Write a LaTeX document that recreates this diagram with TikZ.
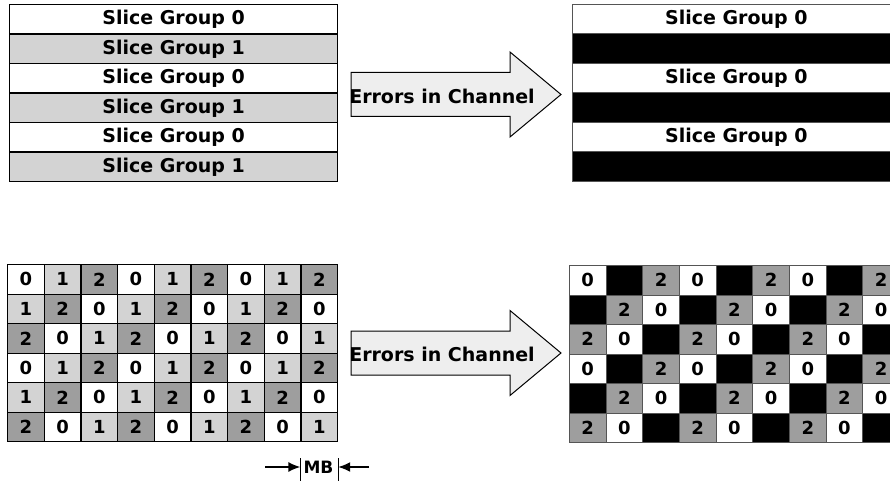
\documentclass[tikz,border=0pt]{standalone}
\usepackage{fontspec}
\setmainfont{DejaVu Sans}
\usepackage{tikz}
\usetikzlibrary{arrows.meta,positioning}
\definecolor{sgone}{HTML}{D3D3D3}
\definecolor{sgtwo}{HTML}{9E9E9E}
\definecolor{chanfill}{HTML}{EEEEEE}
\definecolor{thinline}{HTML}{555555}
\tikzset{
  band/.style={draw, line width=1.2pt, minimum width=328pt, minimum height=29.5pt,
    inner sep=0pt, anchor=north west, font=\fontsize{19}{19}\selectfont\bfseries},
  mbcell/.style={draw, line width=1.2pt, minimum width=36.67pt, minimum height=29.5pt,
    inner sep=0pt, anchor=north west, font=\fontsize{18}{18}\selectfont\bfseries},
  sg0/.style={fill=white}, sg1/.style={fill=sgone}, sg2/.style={fill=sgtwo},
  lost0/.style={fill=white}, lost1/.style={fill=black}, lost2/.style={fill=sgtwo},
  channel/.style={draw, line width=1pt, fill=chanfill},
  chantext/.style={font=\fontsize{19}{19}\selectfont\bfseries, inner sep=0pt},
}
\begin{document}
\begin{tikzpicture}[x=1pt, y=-1pt]
  \clip (0,0) rectangle (890,481);
  % slice groups, interleaved rows
  \foreach \i in {0,...,5} {
    \pgfmathtruncatemacro{\v}{mod(\i,2)}
    \node[band, sg\v] (sgl-\i) at (9, 4+29.5*\i) {Slice Group \v};
    \ifnum\v=0
      \node[band, draw=thinline, line width=0.6pt, lost0] (sgr-\i) at (572, 4+29.5*\i) {Slice Group 0};
    \else
      \node[band, draw=thinline, line width=0.6pt, lost1] (sgr-\i) at (572, 4+29.5*\i) {};
    \fi
  }
  % dispersed slice groups, checkerboard of macroblocks
  \foreach \r in {0,...,5} {
    \foreach \c in {0,...,8} {
      \pgfmathtruncatemacro{\v}{mod(\r+\c,3)}
      \node[mbcell, sg\v] (mbl-\r-\c) at (7+36.67*\c, 264+29.5*\r) {\v};
      \node[mbcell, draw=thinline, line width=0.8pt, lost\v] (mbr-\r-\c) at (569+36.67*\c, 265+29.5*\r) {\ifnum\v=1 \else\v\fi};
    }
  }
  % channel arrows
  \foreach \y/\n in {94.5/top, 353/bot} {
    \draw[channel] (351,\y-22) -- (510,\y-22) -- (510,\y-42.5) -- (561,\y)
      -- (510,\y+42.5) -- (510,\y+22) -- (351,\y+22) -- cycle;
    \node[chantext] (err-\n) at (442,\y+1.5) {Errors in Channel};
  }
  % macroblock width marker
  \coordinate (mbleft-top) at (mbl-5-8.south west);
  \coordinate (mbright-top) at (mbl-5-8.south east);
  \coordinate (mbleft-bot) at (300,481);
  \coordinate (mbright-bot) at (337,481);
  \draw[line width=1.2pt] ([yshift=-16pt]mbleft-top) -- (mbleft-top |- mbleft-bot);
  \draw[line width=1.2pt] ([yshift=-16pt]mbright-top) -- (mbright-top |- mbright-bot);
  \node[font=\fontsize{17}{17}\selectfont\bfseries, inner sep=0pt] (mb) at (318.5,467) {MB};
  \coordinate (mbtail-l) at (265,467);
  \coordinate (mbtail-r) at (369,467);
  \draw[line width=1.5pt, -{Latex[length=12pt,width=10pt]}] (mbtail-l) -- (mbleft-top |- mbtail-l);
  \draw[line width=1.5pt, -{Latex[length=12pt,width=10pt]}] (mbtail-r) -- (mbright-top |- mbtail-r);
\end{tikzpicture}
\end{document}
